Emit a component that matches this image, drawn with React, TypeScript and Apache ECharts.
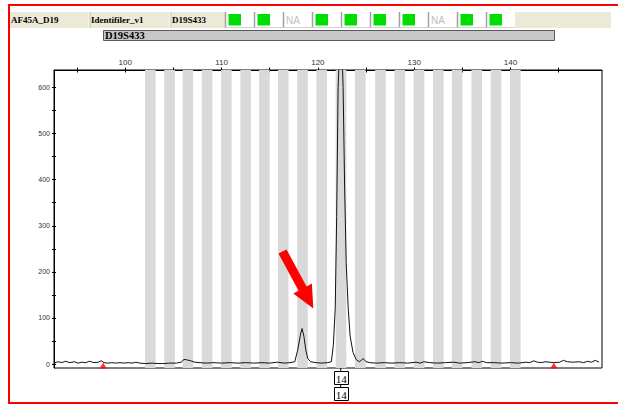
import React, { useEffect, useRef } from "react";
import * as echarts from "echarts";

// ---- data ----
const sampleName = "AF45A_D19";
const panelName = "Identifiler_v1";
const markerName = "D19S433";
const qualityFlags = ["ok", "ok", "NA", "ok", "ok", "ok", "ok", "NA", "ok", "ok"];

const binCenters = [
  102.6, 104.6, 106.5, 108.5, 110.5, 112.5, 114.45, 116.4, 118.4, 120.4,
  122.4, 124.4, 126.5, 128.5, 130.5, 132.5, 134.45, 136.5, 138.5, 140.5,
];
const binWidth = 1.1;

const traceX = [
  92.6, 93.0, 93.4, 93.8, 94.25, 94.7, 95.1, 95.5, 95.9, 96.3, 96.75, 97.2, 97.5, 97.8,
  98.2, 98.6, 99.0, 99.45, 99.9, 100.3, 100.7, 101.1, 101.5, 102.1, 102.8, 103.4, 104.0,
  104.6, 105.3, 105.8, 106.1, 106.4, 106.8, 107.2, 107.75, 108.4, 109.2, 110.0, 110.9,
  111.7, 112.5, 113.35, 114.2, 115.0, 115.8, 116.5, 117.1, 117.6, 117.9, 118.2, 118.36,
  118.55, 118.75, 118.95, 119.25, 119.8, 120.4, 121.0, 121.4, 121.6, 121.8, 121.95, 122.1,
  122.25, 122.37, 122.5, 122.62, 122.78, 122.94, 123.15, 123.35, 123.65, 123.97, 124.3,
  124.5, 124.7, 125.0, 125.4, 126.1, 126.9, 127.7, 128.5, 129.3, 130.2, 130.6, 131.0,
  131.6, 132.4, 133.25, 134.1, 134.7, 135.5, 136.3, 136.7, 137.1, 137.5, 138.3, 139.1,
  140.0, 140.8, 141.6, 142.0, 142.4, 142.8, 143.2, 143.6, 144.5, 145.1, 145.5, 145.9,
  146.5, 147.1, 147.6, 148.0, 148.4, 148.8, 149.2,
];
const traceY = [
  2, 5, 3, 6, 3, 5, 2, 4, 3, 6, 3, 4, 7, 3,
  2, 3, 2, 3, 2, 3, 2, 4, 2, 1, 2, 1, 1,
  2, 2, 4, 10, 9, 7, 4, 3, 2, 3, 2, 3,
  2, 3, 2, 3, 2, 4, 2, 3, 5, 30, 65, 77,
  60, 30, 12, 5, 3, 2, 3, 5, 40, 120, 320, 600,
  680, 700, 680, 600, 380, 220, 120, 60, 25, 10, 5,
  8, 12, 5, 3, 2, 3, 2, 3, 2, 4, 2, 5,
  3, 2, 3, 4, 2, 3, 5, 3, 6, 3, 3, 2,
  3, 2, 4, 3, 7, 4, 3, 5, 3, 4, 8, 5,
  4, 5, 3, 6, 4, 8, 4,
];

const markerX = [97.7, 144.5];
const peakX = 122.37;
const peakLabels = ["14", "14"];

const xMin = 92.6;
const xMax = 149.5;
const yMin = -8.6;
const yMax = 638;
const xTickValues = [95, 100, 105, 110, 115, 120, 125, 130, 135, 140, 145];
const xLabelValues = [100, 110, 120, 130, 140];
const yTickValues = [0, 50, 100, 150, 200, 250, 300, 350, 400, 450, 500, 550, 600];
const yLabelValues = [0, 100, 200, 300, 400, 500, 600];

const SERIF = "'Liberation Serif', 'Times New Roman', serif";
const SANS = "'Liberation Sans', Arial, sans-serif";

function headerGraphics(): any[] {
  const g: any[] = [];
  g.push({ type: "rect", shape: { x: 10, y: 12, width: 215, height: 16 }, style: { fill: "#ECE9D8" } });
  g.push({ type: "rect", shape: { x: 515, y: 12, width: 96, height: 16 }, style: { fill: "#ECE9D8" } });
  const cellX = [11, 91, 172];
  [sampleName, panelName, markerName].forEach((t, i) => {
    g.push({
      type: "text",
      x: cellX[i],
      y: 20,
      style: { text: t, fontFamily: SERIF, fontWeight: "bold", fontSize: 9, fill: "#000", verticalAlign: "middle" },
    });
  });
  [89, 170].forEach((x) => {
    g.push({ type: "line", shape: { x1: x, y1: 12, x2: x, y2: 28 }, style: { stroke: "#FFFFFF", lineWidth: 1 } });
    g.push({ type: "line", shape: { x1: x + 1, y1: 12, x2: x + 1, y2: 28 }, style: { stroke: "#C8C4B0", lineWidth: 1 } });
  });
  qualityFlags.forEach((f, i) => {
    const x0 = 225 + 29 * i;
    g.push({ type: "rect", shape: { x: x0, y: 12, width: 29, height: 16 }, style: { fill: "#FFFFFF" } });
    g.push({ type: "line", shape: { x1: x0 + 0.5, y1: 12, x2: x0 + 0.5, y2: 28 }, style: { stroke: "#A0A0A0", lineWidth: 1.5 } });
    g.push({ type: "line", shape: { x1: x0, y1: 27.5, x2: x0 + 29, y2: 27.5 }, style: { stroke: "#D0D0D0", lineWidth: 1 } });
    if (f === "NA") {
      g.push({
        type: "text",
        x: x0 + 3,
        y: 20,
        style: { text: "NA", fontFamily: SANS, fontSize: 10, fill: "#C0C0C0", verticalAlign: "middle" },
      });
    } else {
      g.push({ type: "rect", shape: { x: x0 + 3.5, y: 14, width: 12.5, height: 11.5 }, style: { fill: "#00DD00" } });
    }
  });
  g.push({
    type: "rect",
    shape: { x: 103.5, y: 30.5, width: 451, height: 10 },
    style: { fill: "#C8C8C8", stroke: "#5A5A5A", lineWidth: 1 },
  });
  g.push({
    type: "text",
    x: 105,
    y: 35.5,
    style: { text: markerName, fontFamily: SERIF, fontWeight: "bold", fontSize: 10.5, fill: "#000", verticalAlign: "middle" },
  });
  g.push({
    type: "rect",
    shape: { x: 9, y: 5, width: 620, height: 398 },
    style: { fill: "none", stroke: "#FF0000", lineWidth: 2 },
    z: 100,
  });
  g.push({
    type: "polygon",
    shape: {
      points: [
        [286.5, 249.4],
        [306.6, 286.5],
        [311.9, 283.6],
        [313.3, 308.5],
        [293.3, 293.6],
        [298.6, 290.7],
        [278.5, 253.6],
      ],
    },
    style: { fill: "#FF0000" },
    z: 50,
  });
  return g;
}

export default function App() {
  const ref = useRef<HTMLDivElement>(null);
  useEffect(() => {
    if (!ref.current) return;
    const chart = echarts.init(ref.current, undefined, { renderer: "svg" });
    const axisLineStyle = { color: "#000", width: 1 };
    const option: any = {
      animation: false,
      backgroundColor: "#FFFFFF",
      grid: {
        left: 54,
        top: 70,
        width: 548,
        height: 298,
        show: true,
        borderColor: "#000",
        borderWidth: 1,
        backgroundColor: "transparent",
      },
      xAxis: [
        {
          type: "value",
          position: "top",
          min: xMin,
          max: xMax,
          axisLine: { show: true, onZero: false, lineStyle: axisLineStyle },
          axisTick: { show: true, inside: false, length: 2.5, customValues: xTickValues, lineStyle: { color: "#000" } },
          axisLabel: { show: true, customValues: xLabelValues, fontSize: 8, fontFamily: SANS, color: "#333", margin: 4 },
          splitLine: { show: false },
        },
        {
          type: "value",
          position: "top",
          offset: -2.5,
          min: xMin,
          max: xMax,
          axisLine: { show: false, onZero: false },
          axisTick: { show: true, inside: false, length: 2.5, customValues: xTickValues, lineStyle: { color: "#000" } },
          axisLabel: { show: false },
          splitLine: { show: false },
        },
      ],
      yAxis: [
        {
          type: "value",
          position: "left",
          min: yMin,
          max: yMax,
          axisLine: { show: true, onZero: false, lineStyle: axisLineStyle },
          axisTick: { show: true, inside: false, length: 2, customValues: yTickValues, lineStyle: { color: "#000" } },
          axisLabel: { show: true, customValues: yLabelValues, fontSize: 7, fontFamily: SANS, color: "#333", margin: 4 },
          splitLine: { show: false },
        },
        {
          type: "value",
          position: "left",
          offset: -2,
          min: yMin,
          max: yMax,
          axisLine: { show: false, onZero: false },
          axisTick: { show: true, inside: false, length: 2, customValues: yTickValues, lineStyle: { color: "#000" } },
          axisLabel: { show: false },
          splitLine: { show: false },
        },
      ],
      series: [
        {
          type: "line",
          xAxisIndex: 0,
          yAxisIndex: 0,
          data: traceX.map((x, i) => [x, traceY[i]]),
          showSymbol: false,
          symbol: "none",
          clip: true,
          z: 3,
          lineStyle: { color: "#111", width: 1 },
          markArea: {
            silent: true,
            itemStyle: { color: "#D9D9D9" },
            data: binCenters.map((c) => [{ xAxis: c - binWidth / 2 }, { xAxis: c + binWidth / 2 }]),
          },
        },
        {
          type: "scatter",
          xAxisIndex: 0,
          yAxisIndex: 0,
          data: markerX.map((x) => [x, -3]),
          symbol: "triangle",
          symbolSize: [7, 6],
          itemStyle: { color: "#FF0000" },
          z: 4,
          clip: false,
        },
      ],
      graphic: headerGraphics(),
    };
    chart.setOption(option);

    const px = chart.convertToPixel({ xAxisIndex: 0 }, peakX) as number;
    const bottom = chart.convertToPixel({ yAxisIndex: 0 }, yMin) as number;
    const g = headerGraphics();
    const boxW = 14;
    const boxH = 13;
    const box1Top = bottom + 3;
    const box2Top = box1Top + boxH + 3;
    g.push({ type: "line", shape: { x1: px, y1: bottom, x2: px, y2: box1Top }, style: { stroke: "#000", lineWidth: 1 } });
    g.push({ type: "line", shape: { x1: px, y1: box1Top + boxH, x2: px, y2: box2Top }, style: { stroke: "#000", lineWidth: 1 } });
    [box1Top, box2Top].forEach((top, i) => {
      g.push({
        type: "rect",
        shape: { x: Math.round(px - boxW / 2) + 0.5, y: Math.round(top) + 0.5, width: boxW, height: boxH },
        style: { fill: "#FFFFFF", stroke: "#000", lineWidth: 1 },
      });
      g.push({
        type: "text",
        x: px + 0.5,
        y: top + boxH / 2 + 1,
        style: {
          text: peakLabels[i],
          fontFamily: SERIF,
          fontSize: 11,
          fill: "#000",
          align: "center",
          verticalAlign: "middle",
        },
      });
    });
    chart.setOption({ graphic: g }, { replaceMerge: ["graphic"] });

    return () => chart.dispose();
  }, []);
  return (
    <div
      ref={ref}
      style={{ position: "absolute", left: 0, top: 0, width: 618, height: 405, background: "#fff" }}
    />
  );
}
